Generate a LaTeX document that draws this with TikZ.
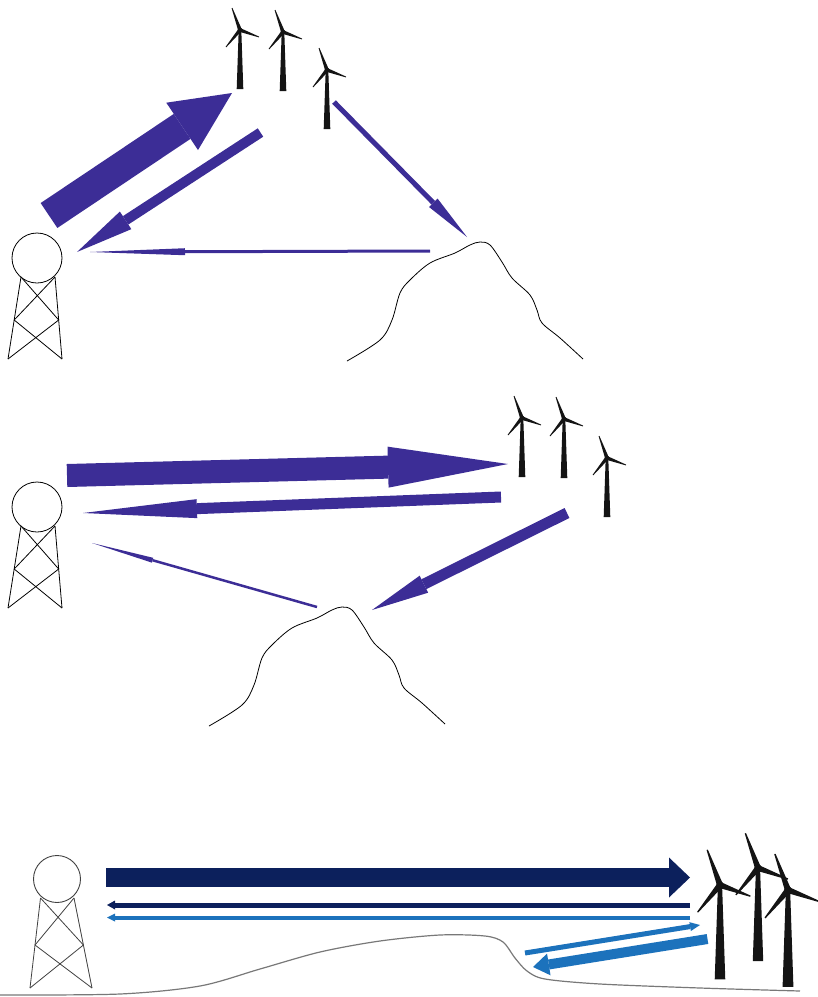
\documentclass[tikz,border=0pt]{standalone}
\usetikzlibrary{arrows.meta}
\definecolor{sigpurple}{RGB}{60,45,150}
\definecolor{signavy}{RGB}{12,32,92}
\definecolor{sigblue}{RGB}{28,114,188}
\definecolor{turbinecol}{RGB}{20,20,20}
\definecolor{groundgray}{RGB}{120,120,120}
\tikzset{
  % block arrow: shaft width, head length, head width
  blockarrow/.style n args={3}{line width=#1,
    -{Triangle[length=#2,width=#3,line width=0pt]}},
  mast/.style={line width=0.8pt, line join=round},
  hill/.style={line width=0.8pt},
  turbine/.pic={
    % tower
    \fill[turbinecol] (-1.3,0) -- (1.3,0) -- (3.3,59) -- (-3.3,59) -- cycle;
    % blades
    \fill[turbinecol] (1.8,-0.65) -- (-7.6,-22.1) -- (-8.4,-21.9) -- (-1.8,0.65) -- cycle;
    \fill[turbinecol] (1.47,1.21) -- (-13.7,17.25) -- (-14.3,16.75) -- (-1.47,-1.21) -- cycle;
    \fill[turbinecol] (-0.66,1.78) -- (18.86,7.38) -- (19.14,6.62) -- (0.66,-1.78) -- cycle;
    % nacelle
    \fill[turbinecol] (0,0) circle (2.3);
  }
}
\begin{document}
\begin{tikzpicture}[x=1pt,y=-1pt]
\useasboundingbox (0,0) rectangle (818,997);

% ---------- upper scene ----------
% radio mast
\begin{scope}[mast]
  \node[circle,draw,line width=0.8pt,minimum size=50pt,inner sep=0pt] (m1) at (37,258) {};
  \draw (21,277) -- (8,359) (55,277) -- (62,359);
  \draw (21,277) -- (58.7,320) -- (8,359);
  \draw (55,277) -- (14.2,320) -- (62,359);
\end{scope}
% hill
\draw[hill] plot[smooth,tension=0.55] coordinates {(347,361) (380,340) (392,320) (400,293) (410,280) (430,263) (455,253) (470,245) (480,242) (490,245) (502,262) (512,278) (530,295) (537,310) (542,323) (560,338) (583,359)};
% wind farm
\pic at (240,30) {turbine};
\pic at (283,32) {turbine};
\pic at (327,70) {turbine};
% signal paths
\coordinate (u1s) at (49,215.5);  \coordinate (u1e) at (232,93);
\coordinate (u2s) at (260.5,132.5); \coordinate (u2e) at (77,252);
\coordinate (u3s) at (430,251);   \coordinate (u3e) at (90,252);
\coordinate (u4s) at (334,102);   \coordinate (u4e) at (467,237);
\draw[sigpurple,blockarrow={30pt}{60pt}{57pt}] (u1s) -- (u1e);
\draw[sigpurple,blockarrow={10pt}{58pt}{21pt}] (u2s) -- (u2e);
\draw[sigpurple,blockarrow={3pt}{95pt}{7pt}] (u3s) -- (u3e);
\draw[sigpurple,blockarrow={5pt}{48pt}{12pt}] (u4s) -- (u4e);

% ---------- middle scene ----------
\begin{scope}[mast,yshift=-249pt]
  \node[circle,draw,line width=0.8pt,minimum size=50pt,inner sep=0pt] (m2) at (37,258) {};
  \draw (21,277) -- (8,359) (55,277) -- (62,359);
  \draw (21,277) -- (58.7,320) -- (8,359);
  \draw (55,277) -- (14.2,320) -- (62,359);
\end{scope}
\begin{scope}[shift={(-138,365)}]
\draw[hill] plot[smooth,tension=0.55] coordinates {(347,361) (380,340) (392,320) (400,293) (410,280) (430,263) (455,253) (470,245) (480,242) (490,245) (502,262) (512,278) (530,295) (537,310) (542,323) (560,338) (583,359)};
\end{scope}
\pic at (522,418) {turbine};
\pic at (564,419) {turbine};
\pic at (607,458) {turbine};
\coordinate (c1s) at (67,475.5);  \coordinate (c1e) at (508,464);
\coordinate (c2s) at (501,497);   \coordinate (c2e) at (83,513);
\coordinate (c3s) at (317,607);   \coordinate (c3e) at (92,543);
\coordinate (c4s) at (567,513);   \coordinate (c4e) at (372,610);
\draw[sigpurple,blockarrow={23pt}{120pt}{41pt}] (c1s) -- (c1e);
\draw[sigpurple,blockarrow={11pt}{114pt}{19pt}] (c2s) -- (c2e);
\draw[sigpurple,blockarrow={2.5pt}{63pt}{5pt}] (c3s) -- (c3e);
\draw[sigpurple,blockarrow={11pt}{58pt}{19pt}] (c4s) -- (c4e);

% ---------- lower scene ----------
\draw[groundgray,line width=1.2pt] plot[smooth,tension=0.5] coordinates {(0,995) (120,994) (200,986) (260,969) (320,952) (380,941) (440,935) (485,936) (503,942) (515,958) (527,971) (545,979) (600,984) (700,988) (800,991)};
\begin{scope}[mast,draw=black!75]
  \node[circle,draw=black!75,line width=0.9pt,minimum size=47pt,inner sep=0pt] (m3) at (57,879) {};
  \draw (40.5,898) -- (30,988) (74,898) -- (92,988);
  \draw (40.5,898) -- (83.4,945) -- (30,988);
  \draw (74,898) -- (35,945) -- (92,988);
\end{scope}
\pic[scale=1.58] at (758,868) {turbine};
\pic[scale=1.6] at (720,885) {turbine};
\pic[scale=1.64] at (788,890) {turbine};
\coordinate (l1s) at (106,877.5); \coordinate (l1e) at (690,877.5);
\coordinate (l2s) at (690,905);   \coordinate (l2e) at (107,905);
\coordinate (l3s) at (690,917.5); \coordinate (l3e) at (107,917.5);
\coordinate (l4s) at (525,953);   \coordinate (l4e) at (700,925);
\coordinate (l5s) at (707.5,939); \coordinate (l5e) at (533,967);
\draw[signavy,blockarrow={19pt}{21pt}{40pt}] (l1s) -- (l1e);
\draw[signavy,blockarrow={5pt}{8pt}{9pt}] (l2s) -- (l2e);
\draw[sigblue,blockarrow={4pt}{8pt}{8pt}] (l3s) -- (l3e);
\draw[sigblue,blockarrow={5pt}{10pt}{9pt}] (l4s) -- (l4e);
\draw[sigblue,blockarrow={10pt}{16pt}{22pt}] (l5s) -- (l5e);
\end{tikzpicture}
\end{document}
